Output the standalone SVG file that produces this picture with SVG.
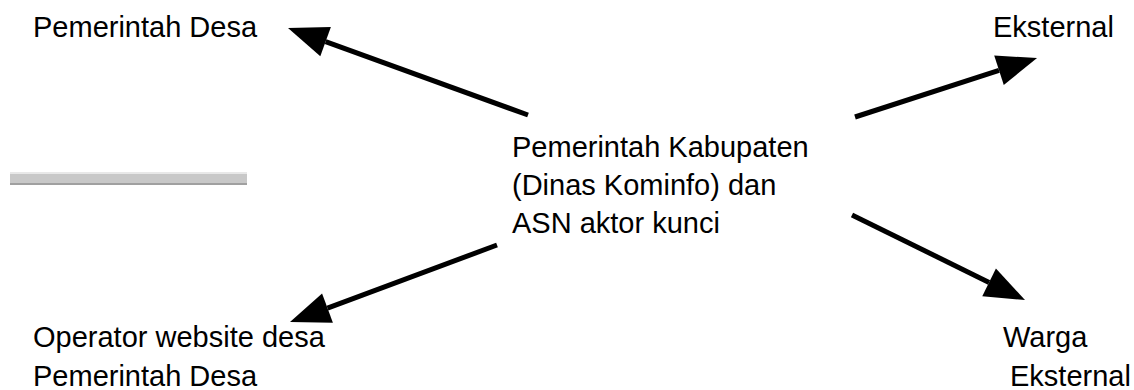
<svg xmlns="http://www.w3.org/2000/svg" width="1134" height="390" viewBox="0 0 1134 390">
<style>
text{font-family:"Liberation Sans",Arial,sans-serif;font-size:29px;fill:#000}
.c{stroke:#000;stroke-width:5;fill:none}
</style>
<defs>
<marker id="ah" markerUnits="userSpaceOnUse" markerWidth="42" markerHeight="32" refX="0" refY="15.5" orient="auto" overflow="visible">
<path d="M0,0 L40,15.5 L0,31 Z" fill="#000"/>
</marker>
</defs>
<rect width="1134" height="390" fill="#fff"/>
<g id="bar">
<rect x="10" y="172" width="237" height="13" fill="#c8c8c8"/>
<rect x="10" y="172" width="237" height="2" fill="#e8e8e8"/>
<rect x="10" y="183" width="237" height="2" fill="#a0a0a0"/>
</g>
<g id="connectors">
<line class="c" x1="528" y1="115" x2="325.6" y2="41.6" marker-end="url(#ah)"/>
<line class="c" x1="855" y1="117" x2="999" y2="70.3" marker-end="url(#ah)"/>
<line class="c" x1="497" y1="245" x2="327.5" y2="308.1" marker-end="url(#ah)"/>
<line class="c" x1="852" y1="215" x2="989.1" y2="282.4" marker-end="url(#ah)"/>
</g>
<g id="center">
<text x="512" y="157">Pemerintah Kabupaten</text>
<text x="512" y="195">(Dinas Kominfo) dan</text>
<text x="512" y="233">ASN aktor kunci</text>
</g>
<g id="pemdes"><text x="33" y="37">Pemerintah Desa</text></g>
<g id="eksternal"><text x="993" y="37">Eksternal</text></g>
<g id="operator">
<text x="33" y="347">Operator website desa</text>
<text x="33" y="386">Pemerintah Desa</text>
</g>
<g id="warga">
<text x="1003" y="347">Warga</text>
<text x="1010" y="386">Eksternal</text>
</g>
</svg>
